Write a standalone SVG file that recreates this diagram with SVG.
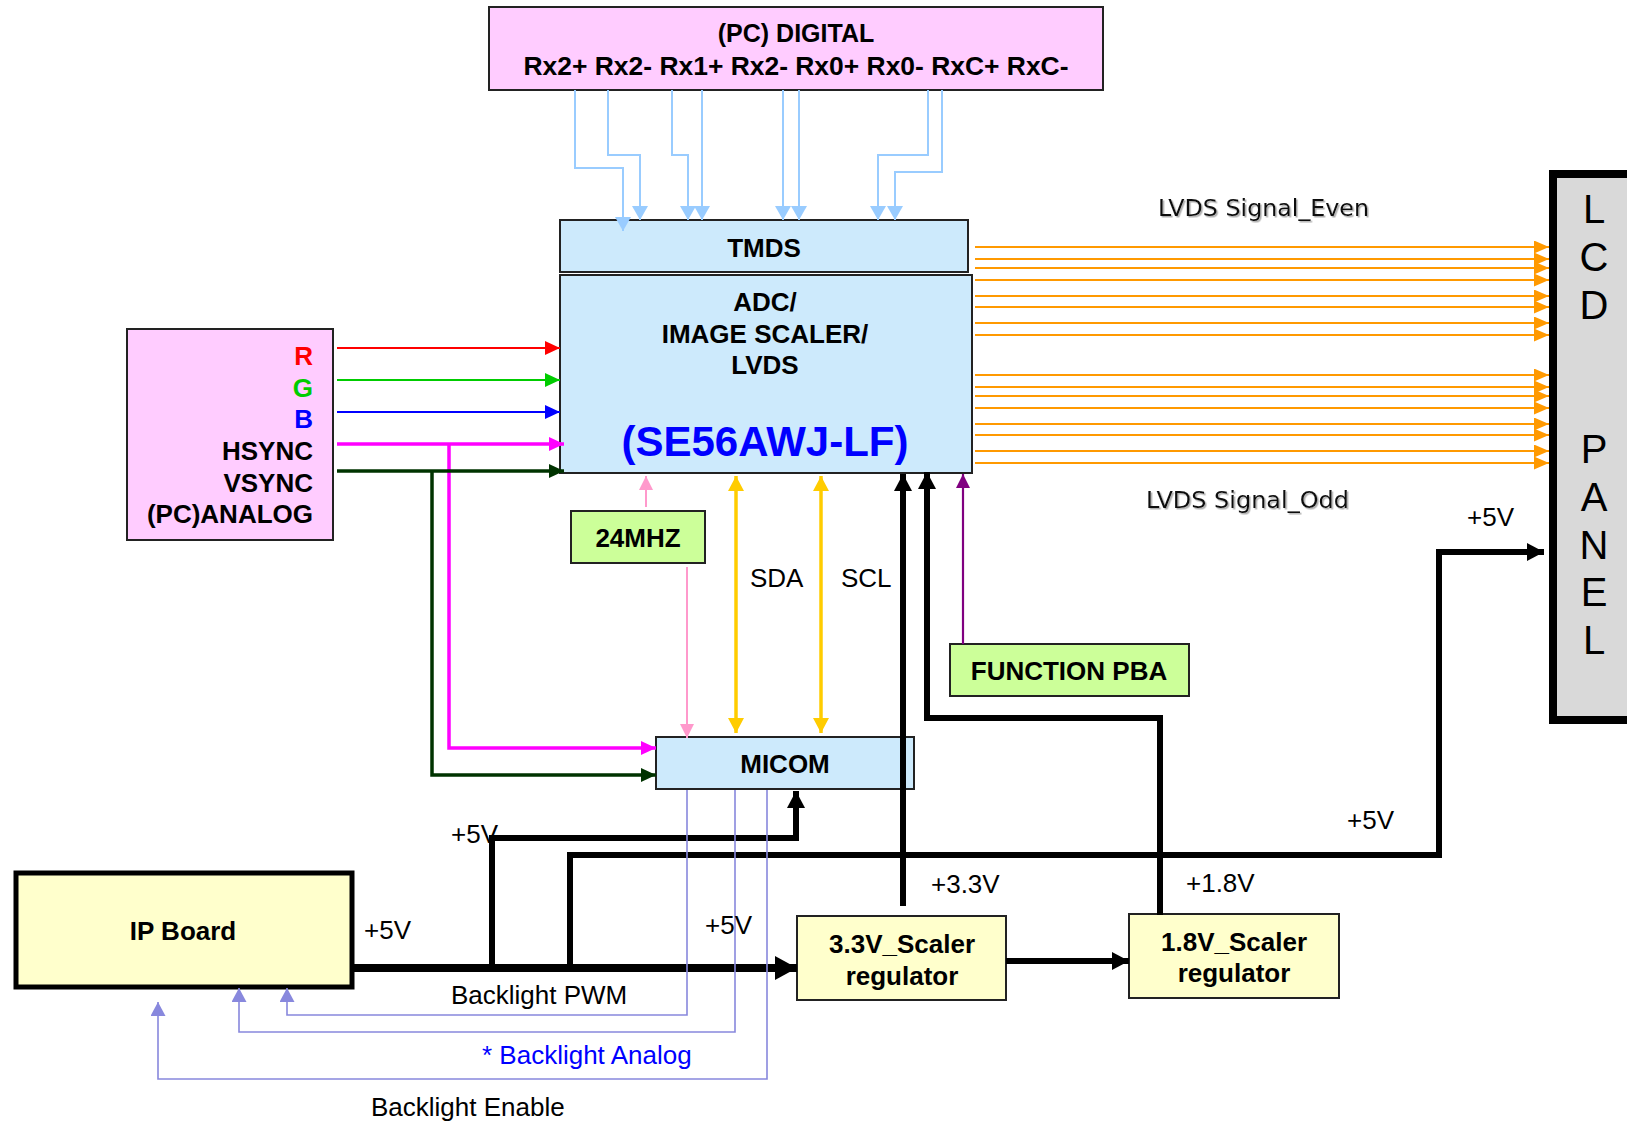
<svg xmlns="http://www.w3.org/2000/svg" width="1627" height="1123" viewBox="0 0 1627 1123">
<style>
.b{font-family:"Liberation Sans",Arial,sans-serif;font-weight:bold;fill:#000}
.n{font-family:"Liberation Sans",Arial,sans-serif;fill:#000}
.lv{font-family:"DejaVu Sans Condensed","DejaVu Sans",sans-serif;fill:#111;filter:url(#sh)}
.box{stroke:#222;stroke-width:2}
.blue{fill:#cdeafc}
.pink{fill:#ffccff}
.grn{fill:#ccff99}
.yel{fill:#ffffcc}
.ln{fill:none}
</style>
<defs>
<filter id="sh" x="-5%" y="-20%" width="115%" height="150%"><feDropShadow dx="1.5" dy="1.5" stdDeviation="0.6" flood-color="#999" flood-opacity="0.8"/></filter>
<marker id="aLb" markerUnits="userSpaceOnUse" viewBox="0 0 14 16" refX="14" refY="8" markerWidth="14" markerHeight="16" orient="auto"><path d="M0,0L14,8L0,16z" fill="#99ccff"/></marker>
<marker id="aOr" markerUnits="userSpaceOnUse" viewBox="0 0 15 13" refX="15" refY="6.5" markerWidth="15" markerHeight="13" orient="auto"><path d="M0,0L15,6.5L0,13z" fill="#ff9900"/></marker>
<marker id="aR" markerUnits="userSpaceOnUse" viewBox="0 0 15 14" refX="15" refY="7" markerWidth="15" markerHeight="14" orient="auto"><path d="M0,0L15,7L0,14z" fill="#ff0000"/></marker>
<marker id="aG" markerUnits="userSpaceOnUse" viewBox="0 0 15 14" refX="15" refY="7" markerWidth="15" markerHeight="14" orient="auto"><path d="M0,0L15,7L0,14z" fill="#00cc00"/></marker>
<marker id="aB" markerUnits="userSpaceOnUse" viewBox="0 0 15 14" refX="15" refY="7" markerWidth="15" markerHeight="14" orient="auto"><path d="M0,0L15,7L0,14z" fill="#0000ff"/></marker>
<marker id="aM" markerUnits="userSpaceOnUse" viewBox="0 0 15 14" refX="15" refY="7" markerWidth="15" markerHeight="14" orient="auto"><path d="M0,0L15,7L0,14z" fill="#ff00ff"/></marker>
<marker id="aD" markerUnits="userSpaceOnUse" viewBox="0 0 15 14" refX="15" refY="7" markerWidth="15" markerHeight="14" orient="auto"><path d="M0,0L15,7L0,14z" fill="#003300"/></marker>
<marker id="aP" markerUnits="userSpaceOnUse" viewBox="0 0 14 14" refX="14" refY="7" markerWidth="14" markerHeight="14" orient="auto"><path d="M0,0L14,7L0,14z" fill="#ff99cc"/></marker>
<marker id="aY" markerUnits="userSpaceOnUse" viewBox="0 0 15 16" refX="15" refY="8" markerWidth="15" markerHeight="16" orient="auto-start-reverse"><path d="M0,0L15,8L0,16z" fill="#ffcc00"/></marker>
<marker id="aPu" markerUnits="userSpaceOnUse" viewBox="0 0 14 14" refX="14" refY="7" markerWidth="14" markerHeight="14" orient="auto"><path d="M0,0L14,7L0,14z" fill="#800080"/></marker>
<marker id="aK" markerUnits="userSpaceOnUse" viewBox="0 0 17 18" refX="17" refY="9" markerWidth="17" markerHeight="18" orient="auto"><path d="M0,0L17,9L0,18z" fill="#000"/></marker>
<marker id="aKL" markerUnits="userSpaceOnUse" viewBox="0 0 22 24" refX="22" refY="12" markerWidth="22" markerHeight="24" orient="auto"><path d="M0,0L22,12L0,24z" fill="#000"/></marker>
<marker id="aBl" markerUnits="userSpaceOnUse" viewBox="0 0 14 15" refX="14" refY="7.5" markerWidth="14" markerHeight="15" orient="auto"><path d="M0,0L14,7.5L0,15z" fill="#8888dd"/></marker>
</defs>
<rect width="1627" height="1123" fill="#fff"/>

<g id="pc-digital">
<rect x="489" y="7" width="614" height="83" class="box pink"/>
<text x="796" y="42" class="b" font-size="25" text-anchor="middle">(PC) DIGITAL</text>
<text x="796" y="75" class="b" font-size="26" text-anchor="middle" textLength="545" lengthAdjust="spacingAndGlyphs">Rx2+ Rx2- Rx1+ Rx2- Rx0+ Rx0- RxC+ RxC-</text>
</g>

<g id="tmds">
<rect x="560" y="220" width="408" height="52" class="box blue"/>
<text x="764" y="257" class="b" font-size="26" text-anchor="middle">TMDS</text>
</g>

<g id="scaler">
<rect x="560" y="275" width="412" height="198" class="box blue"/>
<text x="765" y="311" class="b" font-size="26" text-anchor="middle">ADC/</text>
<text x="765" y="343" class="b" font-size="26" text-anchor="middle">IMAGE SCALER/</text>
<text x="765" y="374" class="b" font-size="26" text-anchor="middle">LVDS</text>
<text x="765" y="456" class="b" font-size="42" text-anchor="middle" style="fill:#0000ff">(SE56AWJ-LF)</text>
</g>

<g id="pc-analog">
<rect x="127" y="329" width="206" height="211" class="box pink"/>
<text x="313" y="365" class="b" font-size="26" text-anchor="end" style="fill:#ff0000">R</text>
<text x="313" y="397" class="b" font-size="26" text-anchor="end" style="fill:#00cc00">G</text>
<text x="313" y="428" class="b" font-size="26" text-anchor="end" style="fill:#0000ff">B</text>
<text x="313" y="460" class="b" font-size="26" text-anchor="end">HSYNC</text>
<text x="313" y="492" class="b" font-size="26" text-anchor="end">VSYNC</text>
<text x="313" y="523" class="b" font-size="26" text-anchor="end">(PC)ANALOG</text>
</g>

<g id="osc">
<rect x="571" y="511" width="134" height="52" class="box grn"/>
<text x="638" y="547" class="b" font-size="26" text-anchor="middle">24MHZ</text>
</g>

<g id="micom">
<rect x="656" y="737" width="258" height="52" class="box blue"/>
<text x="785" y="773" class="b" font-size="26" text-anchor="middle">MICOM</text>
</g>

<g id="function-pba">
<rect x="950" y="644" width="239" height="52" class="box grn"/>
<text x="1069" y="680" class="b" font-size="26" text-anchor="middle">FUNCTION PBA</text>
</g>

<g id="ip-board">
<rect x="16" y="873" width="336" height="114" fill="#ffffcc" stroke="#000" stroke-width="5"/>
<text x="183" y="940" class="b" font-size="26" text-anchor="middle">IP Board</text>
</g>

<g id="reg33">
<rect x="797" y="916" width="209" height="84" class="box yel"/>
<text x="902" y="953" class="b" font-size="26" text-anchor="middle">3.3V_Scaler</text>
<text x="902" y="985" class="b" font-size="26" text-anchor="middle">regulator</text>
</g>

<g id="reg18">
<rect x="1129" y="914" width="210" height="84" class="box yel"/>
<text x="1234" y="951" class="b" font-size="26" text-anchor="middle">1.8V_Scaler</text>
<text x="1234" y="982" class="b" font-size="26" text-anchor="middle">regulator</text>
</g>

<g id="lcd-panel">
<rect x="1553" y="174" width="90" height="546" fill="#d9d9d9" stroke="#000" stroke-width="8"/>
<g class="n" font-size="40" text-anchor="middle">
<text x="1594" y="223">L</text>
<text x="1594" y="271">C</text>
<text x="1594" y="319">D</text>
<text x="1594" y="463">P</text>
<text x="1594" y="511">A</text>
<text x="1594" y="559">N</text>
<text x="1594" y="606">E</text>
<text x="1594" y="654">L</text>
</g>
</g>

<g id="connectors">
<g stroke="#99ccff" stroke-width="2" class="ln" marker-end="url(#aLb)">
<path d="M575,90V168H623V231"/>
<path d="M608,90V155H640V220"/>
<path d="M672,90V155H688V220"/>
<path d="M702,90V220"/>
<path d="M783,90V220"/>
<path d="M799,90V220"/>
<path d="M928,90V155H878V220"/>
<path d="M942,90V172H895V220"/>
</g>
<g stroke="#ff9900" stroke-width="2.2" class="ln" marker-end="url(#aOr)">
<path d="M975,247H1549"/><path d="M975,259H1549"/><path d="M975,268H1549"/><path d="M975,280H1549"/>
<path d="M975,296H1549"/><path d="M975,307H1549"/><path d="M975,323H1549"/><path d="M975,335H1549"/>
<path d="M975,375H1549"/><path d="M975,387H1549"/><path d="M975,396H1549"/><path d="M975,408H1549"/>
<path d="M975,424H1549"/><path d="M975,435H1549"/><path d="M975,451H1549"/><path d="M975,463H1549"/>
</g>
<path d="M337,348H560" stroke="#ff0000" stroke-width="2.2" class="ln" marker-end="url(#aR)"/>
<path d="M337,380H560" stroke="#00cc00" stroke-width="2.2" class="ln" marker-end="url(#aG)"/>
<path d="M337,412H560" stroke="#0000ff" stroke-width="2.2" class="ln" marker-end="url(#aB)"/>
<path d="M337,444H564" stroke="#ff00ff" stroke-width="3.5" class="ln" marker-end="url(#aM)"/>
<path d="M449,444V748H656" stroke="#ff00ff" stroke-width="3.5" class="ln" marker-end="url(#aM)"/>
<path d="M337,471H564" stroke="#003300" stroke-width="3.5" class="ln" marker-end="url(#aD)"/>
<path d="M432,471V775H656" stroke="#003300" stroke-width="3.5" class="ln" marker-end="url(#aD)"/>
<path d="M646,507V476" stroke="#ff99cc" stroke-width="2" class="ln" marker-end="url(#aP)"/>
<path d="M687,567V738" stroke="#ff99cc" stroke-width="2" class="ln" marker-end="url(#aP)"/>
<path d="M736,476V733" stroke="#ffcc00" stroke-width="3.5" class="ln" marker-start="url(#aY)" marker-end="url(#aY)"/>
<path d="M821,476V733" stroke="#ffcc00" stroke-width="3.5" class="ln" marker-start="url(#aY)" marker-end="url(#aY)"/>
<path d="M963,644V474" stroke="#800080" stroke-width="2.2" class="ln" marker-end="url(#aPu)"/>
<g stroke="#000" stroke-width="6" class="ln">
<path d="M903,906V474" marker-end="url(#aK)"/>
<path d="M1160,915V718H927V472" marker-end="url(#aK)"/>
<path d="M492,968V838H796V791" marker-end="url(#aK)"/>
<path d="M570,968V855H1439V552H1544" marker-end="url(#aK)"/>
<path d="M1006,961H1129" marker-end="url(#aK)"/>
</g>
<path d="M352,968H797" stroke="#000" stroke-width="8" class="ln" marker-end="url(#aKL)"/>
<g stroke="#8888dd" stroke-width="1.6" class="ln" marker-end="url(#aBl)">
<path d="M687,790V1015H287V988"/>
<path d="M735,790V1032H239V988"/>
<path d="M767,790V1079H158V1002"/>
</g>
</g>

<g id="labels">
<text x="1158" y="216" class="lv" font-size="23" textLength="211" lengthAdjust="spacingAndGlyphs">LVDS Signal_Even</text>
<text x="1146" y="508" class="lv" font-size="23" textLength="203" lengthAdjust="spacingAndGlyphs">LVDS Signal_Odd</text>
<text x="750" y="587" class="n" font-size="26">SDA</text>
<text x="841" y="587" class="n" font-size="26">SCL</text>
<text x="1467" y="526" class="n" font-size="26">+5V</text>
<text x="1347" y="829" class="n" font-size="26">+5V</text>
<text x="451" y="843" class="n" font-size="26">+5V</text>
<text x="364" y="939" class="n" font-size="26">+5V</text>
<text x="705" y="934" class="n" font-size="26">+5V</text>
<text x="931" y="893" class="n" font-size="26">+3.3V</text>
<text x="1186" y="892" class="n" font-size="26">+1.8V</text>
<text x="451" y="1004" class="n" font-size="26">Backlight PWM</text>
<text x="482" y="1064" class="n" font-size="26" style="fill:#0000ff">* Backlight Analog</text>
<text x="371" y="1116" class="n" font-size="26">Backlight Enable</text>
</g>
</svg>
